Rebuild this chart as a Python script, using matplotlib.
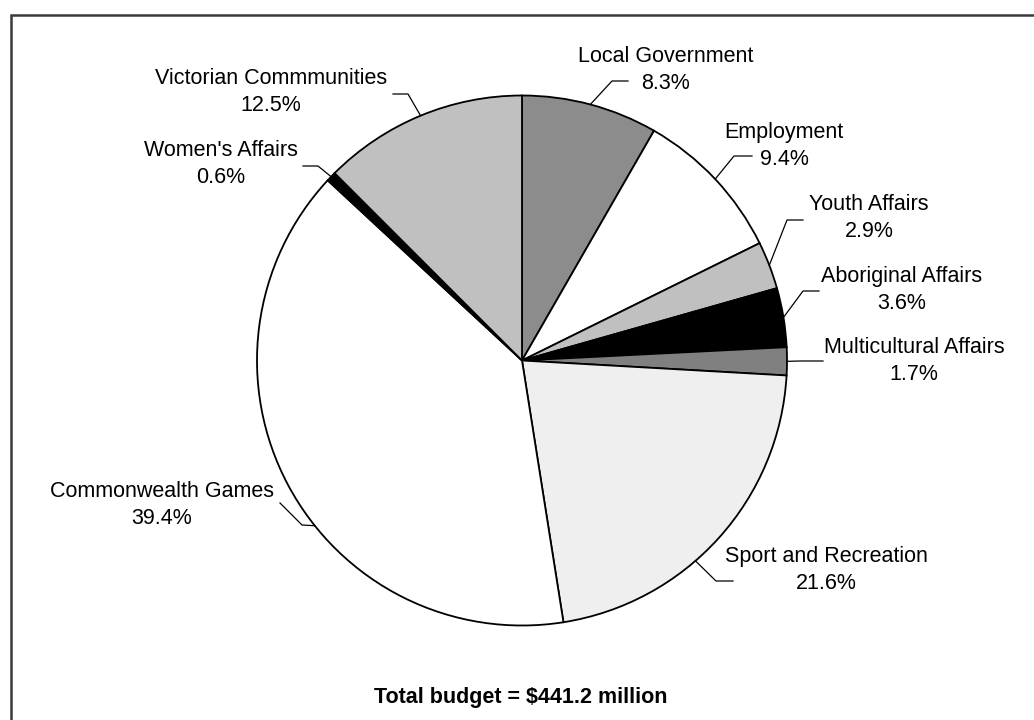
import matplotlib.pyplot as plt
import numpy as np

plt.rcParams['font.family'] = ['Liberation Sans', 'DejaVu Sans']

# budget shares by program area, clockwise from 12 o'clock
categories = ['Local Government', 'Employment', 'Youth Affairs', 'Aboriginal Affairs',
              'Multicultural Affairs', 'Sport and Recreation', 'Commonwealth Games',
              "Women's Affairs", 'Victorian Commmunities']
shares = [8.3, 9.4, 2.9, 3.6, 1.7, 21.6, 39.4, 0.6, 12.5]
total_budget = 441.2

colours = ['#8c8c8c', 'white', '#c0c0c0', 'black', '#808080',
           '#efefef', 'white', 'black', '#c0c0c0']

# label block centre (pixels), where the leader meets the rim (fraction of
# the wedge), and the elbow / end of each leader line
label_pos = [(666, 70), (784, 146), (869, 218), (902, 290), (914, 361),
             (826, 570), (162, 505), (221, 164), (271, 92)]
anchor_frac = [0.5, 0.5, 0.5, 0.5, 0.5, 0.59, 0.426, 0.5, 0.5]
leaders = [((612, 81), (628, 81)), ((734, 156), (752, 156)),
           ((787, 220), (803, 220)), ((803, 291), (819, 291)),
           ((800, 361), (823, 361)), ((716, 581), (733, 581)),
           ((302, 525), (280, 503)), ((318, 166), (303, 166)),
           ((408, 94), (393, 94))]

W, H = 1034, 720
cx, cy, r = 522, 360.5, 265

fig = plt.figure(figsize=(W / 100, H / 100), dpi=100)
ax = fig.add_axes([0, 0, 1, 1])

# y axis runs downward, so counterclockwise in data is clockwise on screen
wedges, _ = ax.pie(shares, colors=colours, startangle=-90, counterclock=True,
                   center=(cx, cy), radius=r,
                   wedgeprops=dict(edgecolor='black', linewidth=1.3))
ax.set_xlim(0, W)
ax.set_ylim(H, 0)
ax.set_aspect('auto')
ax.axis('off')

for w, name, val, pos, frac, (elbow, end) in zip(wedges, categories, shares,
                                                 label_pos, anchor_frac, leaders):
    a = np.deg2rad(w.theta1 + frac * (w.theta2 - w.theta1))
    sx, sy = cx + r * np.cos(a), cy + r * np.sin(a)
    ax.plot([sx, elbow[0], end[0]], [sy, elbow[1], end[1]], color='black', lw=0.9)
    ax.text(pos[0], pos[1], f'{name}\n{val}%', ha='center', va='center',
            multialignment='center', linespacing=1.34, fontsize=15.5)

ax.text(521, 698, f'Total budget = ${total_budget} million', ha='center', va='center',
        fontsize=15.5, fontweight='bold')

# frame edges along the top and left
ax.plot([10.5, 10.5, W], [H, 14.5, 14.5], color='#3a3a3a', lw=1.8,
        solid_joinstyle='miter', clip_on=False)

fig.savefig('out.png', dpi=100)
